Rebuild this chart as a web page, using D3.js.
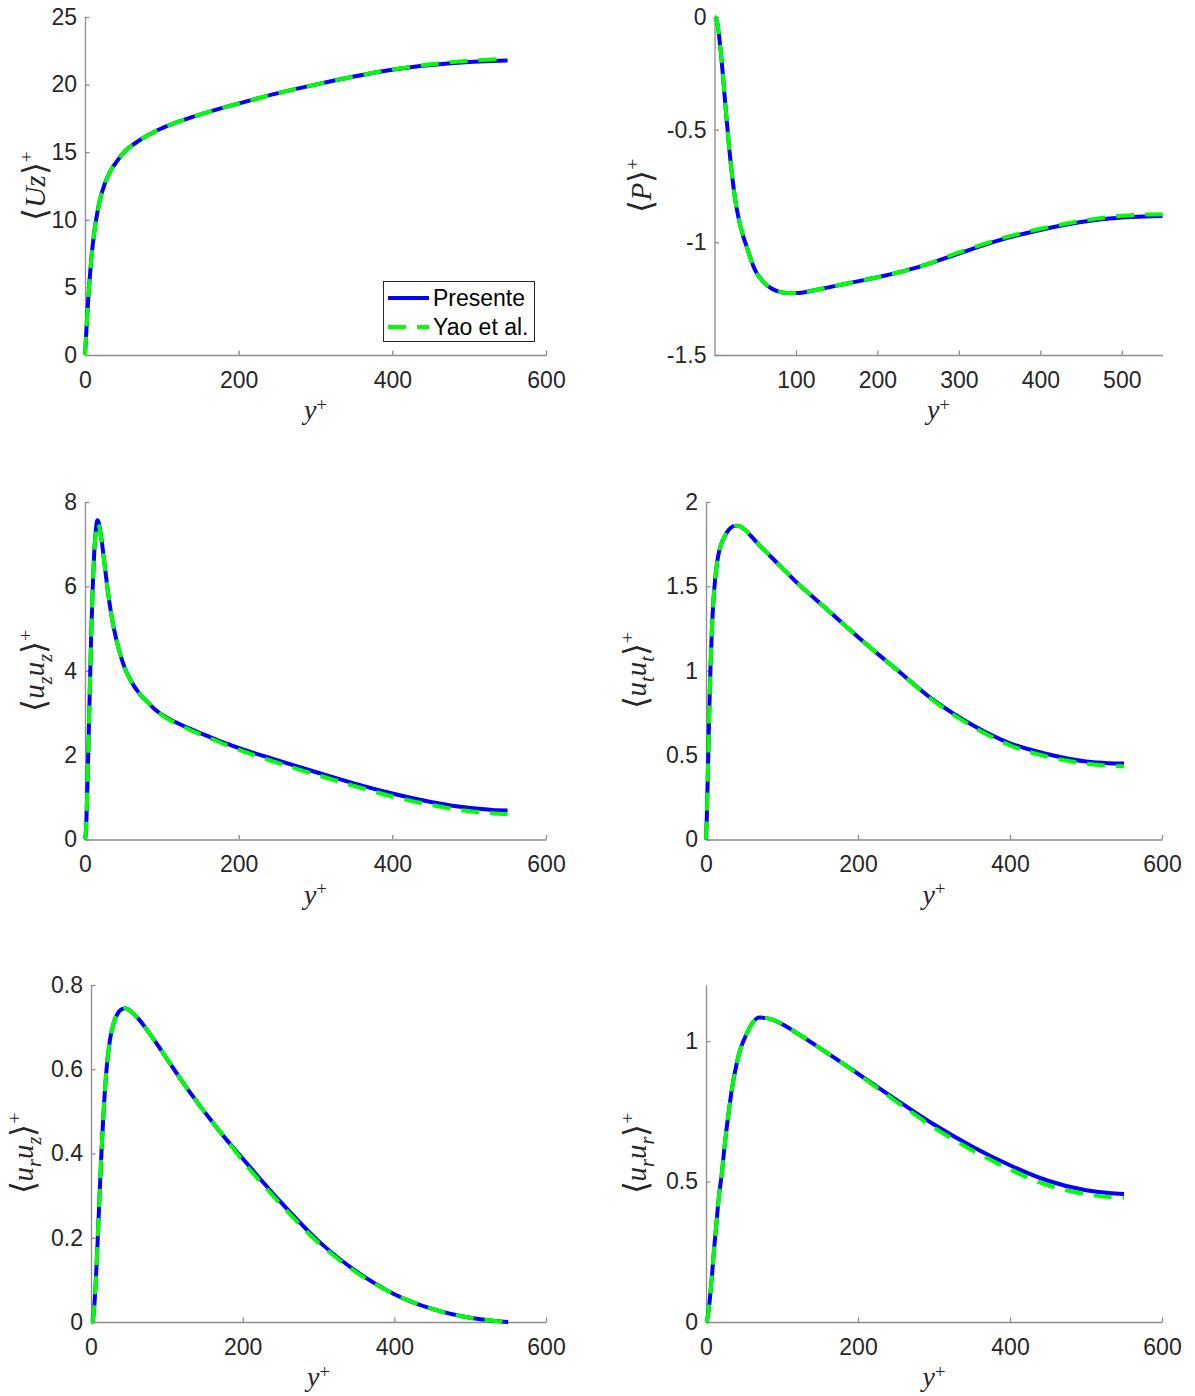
<!DOCTYPE html>
<html>
<head>
<meta charset="utf-8">
<script src="https://cdn.jsdelivr.net/npm/d3@7"></script>
<style>
  body { margin: 0; background: #ffffff; }
  svg { display: block; }
</style>
</head>
<body>
<svg id="fig" width="1195" height="1396"></svg>
<script>
// Wall distance y+ shared by every profile
const yPlus = [0, 1, 2, 3, 4, 5, 6, 8, 10, 12, 14, 16, 18, 20, 25, 30, 35, 40, 45, 50,
               60, 70, 80, 90, 100, 120, 140, 160, 180, 200, 250, 300, 350, 400, 450, 500, 530, 550];

const seriesNames = ["Presente", "Yao et al."];

// Mean axial velocity <Uz>+
const meanUzPresente = [0, 1.0, 2.0, 2.95, 3.9, 4.75, 5.55, 6.95, 8.1, 9.05, 9.85, 10.5, 11.1, 11.6, 12.55, 13.25, 13.8, 14.2, 14.6, 14.95,
                        15.45, 15.85, 16.2, 16.5, 16.77, 17.22, 17.62, 17.97, 18.3, 18.6, 19.35, 20.0, 20.6, 21.1, 21.45, 21.68, 21.75, 21.78];
const meanUzYao      = [0, 1.0, 2.0, 2.95, 3.9, 4.75, 5.55, 6.95, 8.1, 9.05, 9.85, 10.5, 11.1, 11.6, 12.55, 13.25, 13.8, 14.2, 14.6, 14.95,
                        15.45, 15.85, 16.2, 16.5, 16.77, 17.22, 17.62, 17.97, 18.3, 18.6, 19.35, 20.0, 20.6, 21.12, 21.5, 21.78, 21.86, 21.9];

// Mean pressure <P>+
const meanPPresente = [0, -0.003, -0.01, -0.02, -0.04, -0.065, -0.095, -0.165, -0.245, -0.33, -0.42, -0.5, -0.58, -0.65, -0.8, -0.9, -0.97, -1.025, -1.08, -1.125,
                       -1.175, -1.205, -1.22, -1.225, -1.225, -1.215, -1.2, -1.185, -1.17, -1.155, -1.11, -1.05, -0.99, -0.945, -0.91, -0.89, -0.885, -0.883];
const meanPYao      = [0, -0.003, -0.01, -0.02, -0.04, -0.065, -0.095, -0.165, -0.245, -0.33, -0.42, -0.5, -0.58, -0.65, -0.8, -0.9, -0.97, -1.025, -1.08, -1.125,
                       -1.175, -1.205, -1.22, -1.225, -1.225, -1.215, -1.2, -1.185, -1.17, -1.155, -1.11, -1.045, -0.985, -0.94, -0.905, -0.882, -0.876, -0.875];

// Axial normal stress <uz uz>+
const uzuzPresente = [0, 0.15, 0.55, 1.15, 1.85, 2.6, 3.35, 4.8, 5.95, 6.8, 7.3, 7.57, 7.5, 7.3, 6.6, 5.85, 5.25, 4.8, 4.45, 4.15,
                      3.75, 3.48, 3.28, 3.1, 2.96, 2.76, 2.6, 2.45, 2.3, 2.17, 1.88, 1.6, 1.33, 1.09, 0.89, 0.75, 0.7, 0.69];
const uzuzYao      = [0, 0.15, 0.55, 1.15, 1.85, 2.6, 3.35, 4.8, 5.95, 6.78, 7.27, 7.5, 7.45, 7.27, 6.58, 5.85, 5.25, 4.8, 4.45, 4.15,
                      3.75, 3.48, 3.28, 3.1, 2.95, 2.74, 2.57, 2.42, 2.27, 2.13, 1.82, 1.54, 1.27, 1.02, 0.82, 0.67, 0.62, 0.6];

// Azimuthal normal stress <ut ut>+
const ututPresente = [0, 0.12, 0.3, 0.5, 0.7, 0.88, 1.03, 1.27, 1.43, 1.54, 1.62, 1.68, 1.72, 1.75, 1.8, 1.835, 1.855, 1.86, 1.855, 1.84,
                      1.795, 1.745, 1.7, 1.655, 1.61, 1.52, 1.44, 1.36, 1.28, 1.2, 1.01, 0.824, 0.68, 0.57, 0.505, 0.462, 0.452, 0.45];
const ututYao      = [0, 0.12, 0.3, 0.5, 0.7, 0.88, 1.03, 1.27, 1.43, 1.54, 1.62, 1.68, 1.72, 1.75, 1.8, 1.835, 1.855, 1.86, 1.855, 1.84,
                      1.795, 1.745, 1.7, 1.655, 1.61, 1.52, 1.44, 1.36, 1.28, 1.2, 1.01, 0.82, 0.672, 0.558, 0.49, 0.45, 0.437, 0.433];

// Shear stress <ur uz>+
const uruzPresente = [0, 0.0005, 0.003, 0.012, 0.03, 0.055, 0.085, 0.16, 0.245, 0.33, 0.41, 0.48, 0.54, 0.59, 0.67, 0.71, 0.732, 0.742, 0.745, 0.741,
                      0.725, 0.703, 0.678, 0.652, 0.625, 0.572, 0.522, 0.475, 0.43, 0.388, 0.285, 0.192, 0.12, 0.066, 0.031, 0.01, 0.003, 0];
const uruzYao      = [0, 0.0005, 0.003, 0.012, 0.03, 0.055, 0.085, 0.16, 0.245, 0.33, 0.41, 0.48, 0.54, 0.59, 0.67, 0.71, 0.732, 0.742, 0.745, 0.741,
                      0.725, 0.703, 0.678, 0.652, 0.625, 0.572, 0.522, 0.475, 0.43, 0.383, 0.28, 0.188, 0.118, 0.066, 0.031, 0.01, 0.003, 0];

// Radial normal stress <ur ur>+
const ururPresente = [0, 0.004, 0.015, 0.032, 0.055, 0.08, 0.11, 0.17, 0.24, 0.3, 0.36, 0.42, 0.47, 0.51, 0.64, 0.75, 0.845, 0.915, 0.97, 1.005,
                      1.06, 1.084, 1.082, 1.074, 1.061, 1.028, 0.993, 0.957, 0.921, 0.884, 0.792, 0.703, 0.625, 0.558, 0.503, 0.469, 0.459, 0.456];
const ururYao      = [0, 0.004, 0.015, 0.032, 0.055, 0.08, 0.11, 0.17, 0.24, 0.3, 0.36, 0.42, 0.47, 0.51, 0.64, 0.75, 0.845, 0.915, 0.97, 1.005,
                      1.06, 1.084, 1.082, 1.074, 1.061, 1.028, 0.993, 0.957, 0.921, 0.882, 0.786, 0.692, 0.612, 0.543, 0.487, 0.455, 0.445, 0.442];

// Tick values per panel
const xTicksFull = [0, 200, 400, 600];
const xTicksP = [100, 200, 300, 400, 500];
const yTicksUz = [0, 5, 10, 15, 20, 25];
const yTicksP = [-1.5, -1, -0.5, 0];
const yTicksUzUz = [0, 2, 4, 6, 8];
const yTicksUtUt = [0, 0.5, 1, 1.5, 2];
const yTicksUrUz = [0, 0.2, 0.4, 0.6, 0.8];
const yTicksUrUr = [0, 0.5, 1];

// Label pieces: [text, kind]  kind: b = bracket, i = italic, isub = italic subscript, sup = superscript
const labelUz   = [["\u27E8", "b"], ["U", "i"], ["z", "i"], ["\u27E9", "b"], ["+", "sup"]];
const labelP    = [["\u27E8", "b"], ["P", "i"], ["\u27E9", "b"], ["+", "sup"]];
const labelUzUz = [["\u27E8", "b"], ["u", "i"], ["z", "isub"], ["u", "i"], ["z", "isub"], ["\u27E9", "b"], ["+", "sup"]];
const labelUtUt = [["\u27E8", "b"], ["u", "i"], ["t", "isub"], ["u", "i"], ["t", "isub"], ["\u27E9", "b"], ["+", "sup"]];
const labelUrUz = [["\u27E8", "b"], ["u", "i"], ["r", "isub"], ["u", "i"], ["z", "isub"], ["\u27E9", "b"], ["+", "sup"]];
const labelUrUr = [["\u27E8", "b"], ["u", "i"], ["r", "isub"], ["u", "i"], ["r", "isub"], ["\u27E9", "b"], ["+", "sup"]];
const labelYPlus = [["y", "i"], ["+", "sup"]];

// Panel layout (pixel boxes of each axes: left, right, top, bottom)
const panels = [
  { box: [85, 546, 17, 355],       xDom: [0, 600], xTicks: xTicksFull, yDom: [0, 25],   yTicks: yTicksUz,   a: meanUzPresente, b: meanUzYao, label: labelUz,   labelX: 45,  legend: true },
  { box: [714.5, 1162.5, 17, 355], xDom: [0, 550], xTicks: xTicksP,    yDom: [-1.5, 0], yTicks: yTicksP,    a: meanPPresente,  b: meanPYao,  label: labelP,    labelX: 651 },
  { box: [85, 546, 502, 839.5],    xDom: [0, 600], xTicks: xTicksFull, yDom: [0, 8],    yTicks: yTicksUzUz, a: uzuzPresente,   b: uzuzYao,   label: labelUzUz, labelX: 44 },
  { box: [706, 1162, 502, 839.5],  xDom: [0, 600], xTicks: xTicksFull, yDom: [0, 2],    yTicks: yTicksUtUt, a: ututPresente,   b: ututYao,   label: labelUtUt, labelX: 646 },
  { box: [91, 546, 985, 1322],     xDom: [0, 600], xTicks: xTicksFull, yDom: [0, 0.8],  yTicks: yTicksUrUz, a: uruzPresente,   b: uruzYao,   label: labelUrUz, labelX: 33 },
  { box: [706, 1162, 985, 1322],   xDom: [0, 600], xTicks: xTicksFull, yDom: [0, 1.2],  yTicks: yTicksUrUr, a: ururPresente,   b: ururYao,   label: labelUrUr, labelX: 646 }
];

const TEXT = "#262626";
const AXIS = "#8c8c8c";
const BLUE = "#0000ff";
const GREEN = "#00ff00";
const TICK_FONT = "'Liberation Sans', Arial, Helvetica, sans-serif";
const MATH_FONT = "'Liberation Serif', 'Times New Roman', serif";
const BRACKET_FONT = "'DejaVu Sans ExtraLight', 'DejaVu Sans', sans-serif";
const DASH = "18,11";

const svg = d3.select("#fig");

function addRich(textSel, parts, size, supRaise) {
  let shift = 0;
  parts.forEach(([t, kind]) => {
    let target = 0, fs = size;
    const italic = kind === "i" || kind === "isub";
    if (kind === "isub") { target = 0.28 * size; fs = 0.7 * size; }
    if (kind === "sup") { target = -supRaise * size; fs = 0.68 * size; }
    if (kind === "b") { fs = 1.15 * size; target = 0.03 * size; }
    const ts = textSel.append("tspan")
      .attr("dy", target - shift)
      .attr("font-size", fs)
      .attr("font-style", italic ? "italic" : "normal")
      .text(t);
    if (kind === "b") ts.attr("font-family", BRACKET_FONT).attr("font-weight", 200);
    shift = target;
  });
}

function styleAxis(g) {
  g.select(".domain").attr("stroke", AXIS).attr("stroke-width", 1.3);
  g.selectAll(".tick line").attr("stroke", AXIS).attr("stroke-width", 1.3);
  g.selectAll(".tick text")
    .attr("fill", TEXT)
    .attr("font-family", TICK_FONT)
    .attr("font-size", 23);
  g.attr("font-family", null).attr("font-size", null);
}

panels.forEach(p => {
  const [x0, x1, y0, y1] = p.box;
  const x = d3.scaleLinear().domain(p.xDom).range([x0, x1]);
  const y = d3.scaleLinear().domain(p.yDom).range([y1, y0]);

  const g = svg.append("g");

  // axes: left and bottom only, ticks pointing inward
  const gx = g.append("g").attr("transform", `translate(0,${y1})`)
    .call(d3.axisBottom(x).tickValues(p.xTicks).tickSizeInner(-4.5).tickSizeOuter(0).tickPadding(16.5)
      .tickFormat(d3.format("d")));
  styleAxis(gx);

  const gy = g.append("g").attr("transform", `translate(${x0},0)`)
    .call(d3.axisLeft(y).tickValues(p.yTicks).tickSizeInner(-4.5).tickSizeOuter(0).tickPadding(8)
      .tickFormat(d => String(d)));
  styleAxis(gy);

  // profiles: solid blue underneath, dashed green on top
  const line = d3.line()
    .x((d, i) => x(yPlus[i]))
    .y(d => y(d))
    .curve(d3.curveMonotoneX);

  g.append("path").datum(p.a)
    .attr("d", line)
    .attr("fill", "none")
    .attr("stroke", BLUE)
    .attr("stroke-width", 4);

  g.append("path").datum(p.b)
    .attr("d", line)
    .attr("fill", "none")
    .attr("stroke", GREEN)
    .attr("stroke-width", 4)
    .attr("stroke-dasharray", DASH);

  // x label
  const xl = g.append("text")
    .attr("x", (x0 + x1) / 2)
    .attr("y", y1 + 64)
    .attr("text-anchor", "middle")
    .attr("fill", TEXT)
    .attr("font-family", MATH_FONT);
  addRich(xl, labelYPlus, 28, 0.3);

  // y label
  const yl = g.append("text")
    .attr("transform", `translate(${p.labelX},${(y0 + y1) / 2}) rotate(-90)`)
    .attr("text-anchor", "middle")
    .attr("fill", TEXT)
    .attr("font-family", MATH_FONT);
  addRich(yl, p.label, 29, 0.4);

  if (p.legend) {
    const lg = g.append("g");
    lg.append("rect")
      .attr("x", 383.5).attr("y", 281.5)
      .attr("width", 151).attr("height", 60)
      .attr("fill", "#ffffff")
      .attr("stroke", TEXT)
      .attr("stroke-width", 1);
    const rows = [
      { name: seriesNames[0], color: BLUE, dash: null, cy: 298 },
      { name: seriesNames[1], color: GREEN, dash: DASH, cy: 327 }
    ];
    rows.forEach(r => {
      lg.append("line")
        .attr("x1", 388).attr("x2", 429)
        .attr("y1", r.cy).attr("y2", r.cy)
        .attr("stroke", r.color)
        .attr("stroke-width", 4)
        .attr("stroke-dasharray", r.dash);
      lg.append("text")
        .attr("x", 433).attr("y", r.cy)
        .attr("dy", "0.35em")
        .attr("fill", "#000000")
        .attr("font-family", TICK_FONT)
        .attr("font-size", 23)
        .text(r.name);
    });
  }
});
</script>
</body>
</html>
